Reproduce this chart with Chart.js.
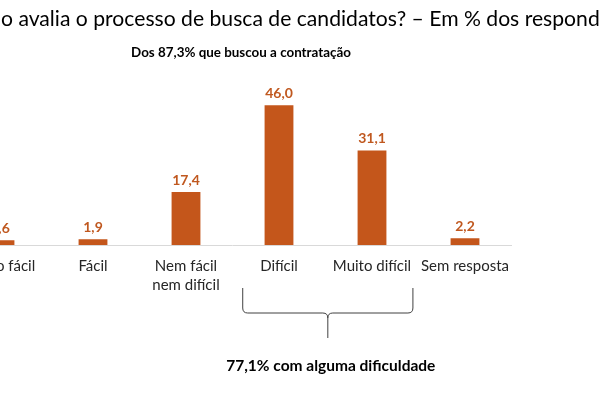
<!DOCTYPE html>
<html>
<head>
<meta charset="utf-8">
<script src="https://cdn.jsdelivr.net/npm/chart.js@4"></script>
<style>
  html, body { margin: 0; padding: 0; background: #fff; overflow: hidden; }
  #wrap { position: absolute; left: -60px; top: 0; width: 700px; height: 400px; }
</style>
</head>
<body>
<div id="wrap"><canvas id="buscaChart" width="700" height="400"></canvas></div>
<script>
// Dados do gráfico
const categories = [['Muito fácil'], ['Fácil'], ['Nem fácil', 'nem difícil'], ['Difícil'], ['Muito difícil'], ['Sem resposta']];
const values = [1.6, 1.9, 17.4, 46.0, 31.1, 2.2];
const title = 'Como avalia o processo de busca de candidatos? – Em % dos respondentes';
const subtitle = 'Dos 87,3% que buscou a contratação';
const braceNote = '77,1% com alguma dificuldade';
const braceFrom = 3; // Difícil
const braceTo = 4;   // Muito difícil

const barColor = '#C4561B';
const labelColor = '#C0581F';
const shift = 60; // canvas starts 60px left of the window

// Rótulos de valor, títulos e a chave
const extras = {
    id: 'extras',
    afterDatasetsDraw(chart) {
        const ctx = chart.ctx;
        const meta = chart.getDatasetMeta(0);
        ctx.save();
        ctx.fillStyle = labelColor;
        ctx.font = 'bold 14px Lato';
        ctx.textAlign = 'center';
        ctx.textBaseline = 'bottom';
        meta.data.forEach((bar, i) => {
            ctx.fillText(values[i].toFixed(1).replace('.', ','), bar.x, bar.y - 5);
        });

        // title, sized so the visible part fills the window
        ctx.fillStyle = '#000';
        ctx.textAlign = 'left';
        ctx.textBaseline = 'middle';
        ctx.font = '20px Lato';
        const w = ctx.measureText('o avalia o processo de busca de candidatos? – Em % dos respond').width;
        const size = 20 * 599 / w;
        ctx.font = size.toFixed(2) + 'px Lato';
        const cut = ctx.measureText('Com').width;
        ctx.fillText(title, shift + 1 - cut, 19);

        ctx.textAlign = 'center';
        ctx.font = 'bold 13.4px Lato';
        ctx.fillText(subtitle, shift + 241, 53);

        // chave sob Difícil e Muito difícil
        const x = chart.scales.x;
        const step = x.getPixelForValue(1) - x.getPixelForValue(0);
        const left = x.getPixelForValue(braceFrom) - step * 0.39;
        const right = x.getPixelForValue(braceTo) + step * 0.44;
        const mid = (left + right) / 2;
        const top = 288, line = 313, tip = 338, r = 5;
        ctx.strokeStyle = '#404040';
        ctx.lineWidth = 1;
        ctx.beginPath();
        ctx.moveTo(left, top);
        ctx.lineTo(left, line - r);
        ctx.quadraticCurveTo(left, line, left + r, line);
        ctx.lineTo(mid - r, line);
        ctx.quadraticCurveTo(mid, line, mid, line + r);
        ctx.lineTo(mid, tip);
        ctx.moveTo(mid, line + r);
        ctx.quadraticCurveTo(mid, line, mid + r, line);
        ctx.lineTo(right - r, line);
        ctx.quadraticCurveTo(right, line, right, line - r);
        ctx.lineTo(right, top);
        ctx.stroke();

        ctx.fillStyle = '#000';
        ctx.font = 'bold 15.5px Lato';
        ctx.fillText(braceNote, mid + 3, 366);
        ctx.restore();
    }
};

const ctx = document.getElementById('buscaChart').getContext('2d');
const buscaChart = new Chart(ctx, {
    type: 'bar',
    data: {
        labels: categories,
        datasets: [{
            data: values,
            backgroundColor: barColor,
            barPercentage: 0.62,
            categoryPercentage: 0.5
        }]
    },
    options: {
        responsive: false,
        animation: false,
        layout: {
            padding: { left: 13.5, right: 128.5, top: 93, bottom: 95 }
        },
        plugins: {
            legend: { display: false },
            tooltip: { enabled: false }
        },
        scales: {
            x: {
                afterFit: (scale) => { scale.height = 60; },
                grid: { display: false, drawTicks: false },
                border: { display: true, color: '#D9D9D9', width: 1 },
                ticks: {
                    color: '#262626',
                    padding: 12,
                    maxRotation: 0,
                    autoSkip: false,
                    font: { family: 'Lato', size: 15, lineHeight: 1.27 }
                }
            },
            y: {
                display: false,
                min: 0,
                max: 50
            }
        }
    },
    plugins: [extras]
});
</script>
</body>
</html>
